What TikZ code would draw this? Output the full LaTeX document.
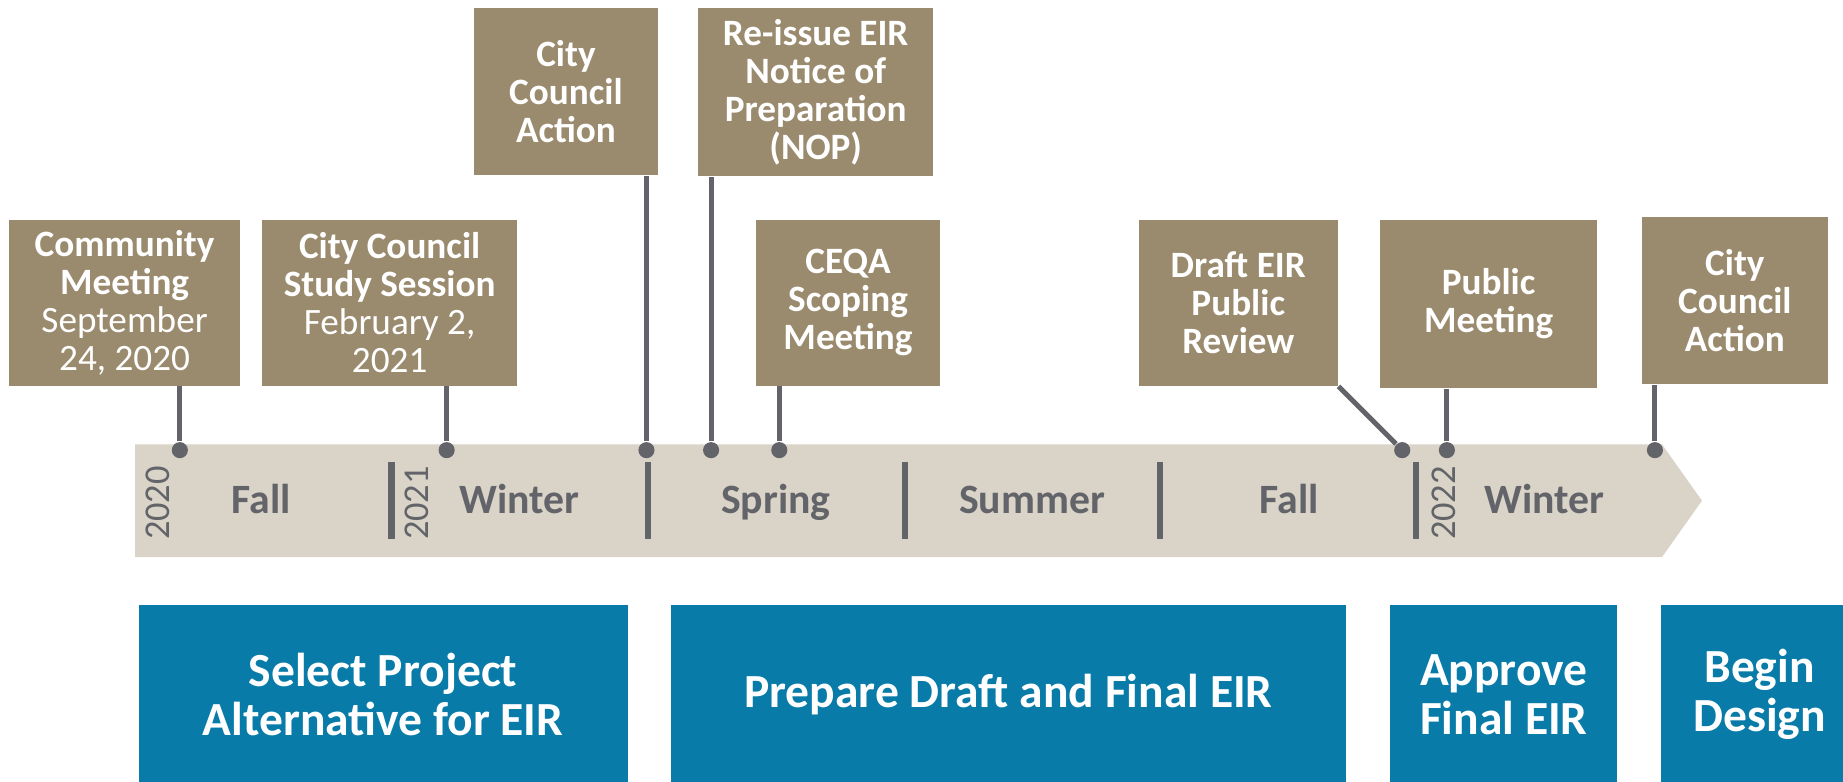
\documentclass[tikz,border=0pt]{standalone}
\usepackage{fontspec}
\setmainfont{Carlito}
\definecolor{evtan}{HTML}{9B8B6E}
\definecolor{bandgray}{HTML}{D9D3C8}
\definecolor{linegray}{HTML}{626469}
\definecolor{phaseblue}{HTML}{097BA8}
\tikzset{
  event/.style={fill=evtan, text=white, align=center, inner sep=0pt,
    font=\fontsize{9}{9.2}\selectfont\bfseries},
  phase/.style={fill=phaseblue, text=white, align=center, inner sep=0pt,
    minimum height=1.52cm, font=\fontsize{11.5}{11.9}\selectfont\bfseries},
  season/.style={text=linegray, anchor=base, font=\fontsize{10.1}{12}\selectfont\bfseries},
  yearlbl/.style={text=linegray, rotate=90, inner sep=0pt, font=\fontsize{8.8}{10}\selectfont},
  dot/.style={circle, fill=linegray, inner sep=0pt, minimum size=3.9pt},
  link/.style={linegray, line width=1.2pt},
  divider/.style={linegray, line width=1.5pt}
}
\begin{document}
\begin{tikzpicture}[x=0.01cm,y=-0.01cm]
\useasboundingbox (0,0) rectangle (1568,665);
\clip (0,0) rectangle (1568,665);
% Bande du calendrier
\fill[bandgray] (115,378) -- (1414,378) -- (1448,426) -- (1414,474) -- (115,474) -- cycle;
\foreach \x in {333,551,770,987,1205}
  \draw[divider] (\x,393) -- (\x,459);
\foreach \x/\s in {222/Fall,442/Winter,660/Spring,878/Summer,1097/Fall,1314/Winter}
  \node[season] (season\x) at (\x,437) {\s};
\foreach \x/\y in {134/2020,355/2021,1228/2022}
  \node[yearlbl] (yr\y) at (\x,428) {\y};
% Jalons
\node[event, minimum width=1.96cm, minimum height=1.41cm] (ev1) at (106,257.5)
  {Community\\Meeting\\\mdseries September\\\mdseries 24, 2020};
\node[event, minimum width=2.17cm, minimum height=1.41cm] (ev2) at (331.5,257.5)
  {City Council\\Study Session\\\mdseries February 2,\\\mdseries 2021};
\node[event, minimum width=1.57cm, minimum height=1.42cm] (ev3) at (481.5,78)
  {City\\Council\\Action};
\node[event, minimum width=2.00cm, minimum height=1.43cm] (ev4) at (694,78.5)
  {Re-issue EIR\\Notice of\\Preparation\\(NOP)};
\node[event, minimum width=1.57cm, minimum height=1.41cm] (ev5) at (721.5,257.5)
  {CEQA\\Scoping\\Meeting};
\node[event, minimum width=1.69cm, minimum height=1.41cm] (ev6) at (1053.5,257.5)
  {Draft EIR\\Public\\Review};
\node[event, minimum width=1.85cm, minimum height=1.43cm] (ev7) at (1266.5,258.5)
  {Public\\Meeting};
\node[event, minimum width=1.58cm, minimum height=1.42cm] (ev8) at (1476,256)
  {City\\Council\\Action};
% Points et liaisons
\foreach \i/\x in {1/153,2/380,3/550,4/605,5/663,6/1193,7/1231,8/1408}
  \node[dot] (d\i) at (\x,383) {};
\foreach \i in {1,2,3,4,5,7,8}
  \draw[link] (d\i) -- (d\i |- ev\i.south);
\draw[link] (d6) -- (ev6.south east);
% Phases
\node[phase, minimum width=4.16cm] (ph1) at (326,591) {Select Project\\Alternative for EIR};
\node[phase, minimum width=5.74cm] (ph2) at (858,591) {Prepare Draft and Final EIR};
\node[phase, minimum width=1.93cm] (ph3) at (1279.5,591) {Approve\\Final EIR};
\node[phase, minimum width=1.68cm] (ph4) at (1497,591) {Begin\\Design};
\end{tikzpicture}
\end{document}
